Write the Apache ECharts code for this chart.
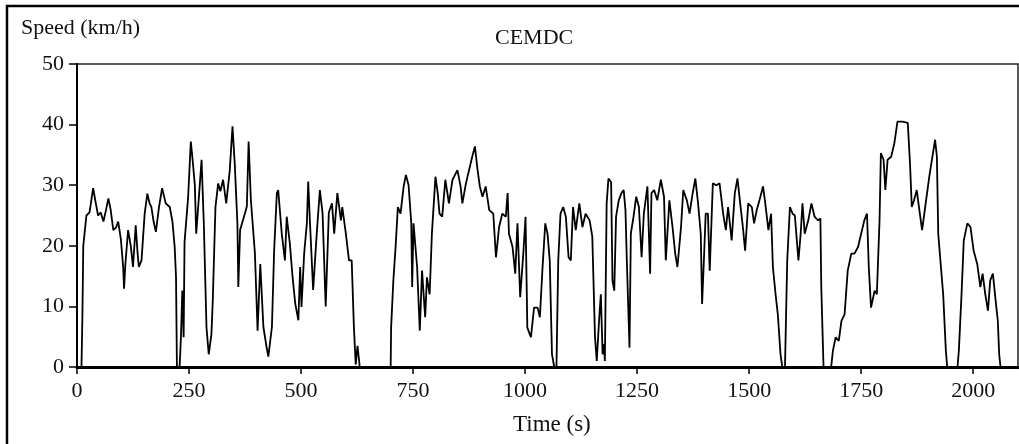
<html>
<head>
  <meta http-equiv="Content-Type" content="text/html; charset=UTF-8">
  <script src="https://cdn.jsdelivr.net/npm/echarts@6/dist/echarts.min.js"></script>
  <style>
    body { margin: 0; background: #fff; }
    #div_show_line { width: 1019px; height: 444px; }
  </style>
  <script>
    // time (s) and speed (km/h)
    var timeS = [
      0, 10, 12, 14, 21, 28, 36, 42, 47, 53, 59, 65, 70, 75, 81, 87, 92, 98, 103, 105,
      108, 114, 120, 125, 131, 135, 138, 144, 151, 157, 162, 166, 171, 176, 183, 190, 198, 207, 213, 218,
      221, 223, 229, 232, 235, 238, 240, 248, 254, 258, 263, 266, 272, 278, 283, 289, 294, 300, 303, 309,
      315, 320, 326, 333, 341, 347, 352, 358, 360, 364, 375, 379, 383, 388, 397, 403, 409, 416, 423, 427,
      435, 440, 446, 449, 457, 464, 468, 475, 481, 487, 494, 498, 501, 507, 513, 516, 520, 527, 535, 542,
      548, 555, 562, 569, 574, 581, 589, 592, 600, 607, 613, 618, 622, 626, 631, 700, 701, 706, 711, 716,
      722, 729, 734, 740, 746, 748, 751, 759, 765, 770, 777, 781, 787, 792, 800, 805, 809, 815, 822, 830,
      838, 849, 856, 860, 868, 875, 882, 888, 894, 899, 905, 912, 920, 929, 935, 942, 949, 957, 961, 964,
      972, 978, 983, 989, 996, 1001, 1005, 1013, 1020, 1028, 1033, 1039, 1045, 1050, 1055, 1060, 1065, 1070, 1074, 1079,
      1085, 1091, 1097, 1102, 1107, 1113, 1121, 1128, 1135, 1144, 1150, 1156, 1160, 1165, 1169, 1173, 1176, 1178, 1182, 1186,
      1192, 1195, 1199, 1203, 1209, 1215, 1220, 1224, 1227, 1233, 1236, 1242, 1248, 1254, 1260, 1265, 1273, 1279, 1282, 1288,
      1295, 1303, 1310, 1314, 1322, 1329, 1335, 1340, 1348, 1353, 1361, 1367, 1374, 1380, 1386, 1392, 1395, 1399, 1403, 1408,
      1412, 1419, 1427, 1434, 1442, 1448, 1453, 1461, 1468, 1474, 1480, 1486, 1491, 1498, 1506, 1511, 1517, 1523, 1531, 1536,
      1543, 1549, 1553, 1559, 1564, 1570, 1574, 1580, 1585, 1591, 1597, 1602, 1610, 1615, 1619, 1624, 1632, 1639, 1646, 1654,
      1659, 1661, 1666, 1683, 1687, 1693, 1700, 1706, 1713, 1720, 1728, 1735, 1743, 1750, 1757, 1763, 1767, 1772, 1780, 1785,
      1791, 1794, 1800, 1804, 1809, 1817, 1824, 1831, 1842, 1854, 1859, 1863, 1868, 1874, 1879, 1886, 1894, 1902, 1909, 1915,
      1919, 1922, 1928, 1933, 1939, 1942, 1965, 1968, 1974, 1979, 1987, 1994, 2001, 2009, 2016, 2021, 2027, 2033, 2038, 2044,
      2050, 2055, 2058, 2061, 2090
    ];
    var speedKmh = [
      0, 0, 8, 20, 25, 25.5, 29.5, 27, 25, 25.5, 24, 26, 27.8, 26, 22.6, 23, 24, 21, 16.5, 12.9,
      17, 22.6, 20, 16.5, 23.4, 19, 16.5, 17.6, 25.3, 28.6, 27, 26.4, 24, 22.3, 26.4, 29.5, 27, 26.4, 24, 19.8,
      14.8, 0, 0, 5, 12.6, 4.9, 20.6, 28, 37.2, 34.2, 30, 22, 28, 34.2, 23.7, 6.5, 2.1, 5.4, 11, 26.4,
      30.3, 29, 30.9, 27, 32.5, 39.7, 33.6, 23.7, 13.2, 22.6, 25.4, 26.5, 37.2, 27.6, 18.8, 6, 17, 6.6, 3.3, 1.7,
      6.6, 19.3, 28.7, 29.2, 22, 17.6, 24.8, 20.4, 14.9, 10.5, 7.7, 16.5, 9.9, 18.8, 23.7, 30.6, 23.7, 12.7, 22, 29.2,
      25.4, 10, 25.5, 27, 22, 28.7, 24.2, 26.4, 22, 17.6, 17.6, 6.5, 0.4, 3.5, 0, 0, 6.5, 14.3, 19.8, 26.4,
      25.3, 29.8, 31.7, 30, 23.7, 13.2, 23.7, 16.5, 6, 15.9, 8.2, 14.8, 12, 22, 31.4, 28.7, 25.3, 24.8, 30.9, 27,
      30.9, 32.5, 29.8, 27, 30.3, 32.5, 34.7, 36.4, 32.5, 29.8, 28.1, 29.8, 25.9, 25.3, 18.1, 23.1, 25.3, 24.8, 28.7, 22,
      19.8, 15.4, 23.7, 11.5, 18.7, 24.8, 6.5, 4.9, 9.8, 9.8, 8.2, 16.5, 23.7, 22, 17.6, 2.1, 0, 0, 17.6, 25.3,
      26.4, 24.8, 18.1, 17.6, 26.4, 22.6, 27, 23.1, 25.3, 24.2, 21.5, 4.9, 1, 7.6, 12, 2.1, 3.8, 1, 27, 31.1,
      30.5, 14.3, 12.6, 24.8, 27.5, 28.7, 29.2, 25.9, 17.6, 3.2, 22, 24.8, 28.1, 26.4, 18.1, 25.3, 29.8, 15.4, 28.7, 29.2,
      27.5, 30.9, 28.1, 17.6, 27.5, 23.1, 18.7, 16.5, 23.1, 29.2, 27.5, 25.3, 28.7, 31.1, 27, 22, 10.4, 17.6, 25.3, 25.3,
      15.9, 30.3, 30, 30.3, 25.3, 22.6, 26.4, 20.9, 28.7, 31.1, 27, 23.1, 19.2, 27, 26.4, 23.7, 25.9, 27.5, 29.8, 27,
      22.6, 25.3, 16.5, 12, 8.7, 2.1, 0, 0, 17.6, 26.4, 25.3, 25, 17.6, 22, 27, 22, 24.2, 27, 24.8, 24.2,
      24.5, 13.2, 0, 0, 2.7, 4.9, 4.3, 7.6, 8.7, 15.9, 18.7, 18.7, 19.8, 22, 24.2, 25.3, 16.5, 9.8, 12.6, 12,
      24.2, 35.3, 34.2, 29.2, 34.2, 34.7, 36.9, 40.5, 40.5, 40.3, 33.6, 26.4, 27.5, 29.2, 26.4, 22.6, 27, 31.4, 34.7, 37.5,
      34.7, 22, 16.5, 12, 2.7, 0, 0, 2.7, 12, 20.9, 23.7, 23.1, 19.2, 17, 13.2, 15.4, 12, 9.3, 14.3, 15.4,
      11, 7.6, 2.1, 0, 0
    ];

    var myChart;
    function DrawEChart() {
      myChart = echarts.init(document.getElementById('div_show_line'));
      var pts = [];
      for (var i = 0; i < timeS.length; i++) {
        pts.push([timeS[i], speedKmh[i]]);
      }
      var serif = '"Liberation Serif", "DejaVu Serif", serif';
      var plain = function (v) { return String(v); };
      var options = {
        animation: false,
        backgroundColor: '#fff',
        title: [
          { text: 'Speed (km/h)', left: 16, top: 12,
            textStyle: { fontFamily: serif, fontSize: 22, fontWeight: 'normal', color: '#111' } },
          { text: 'CEMDC', left: 490, top: 22,
            textStyle: { fontFamily: serif, fontSize: 22, fontWeight: 'normal', color: '#111' } }
        ],
        graphic: [
          { type: 'rect', shape: { x: 7, y: 6, width: 1060, height: 480 },
            style: { fill: 'none', stroke: '#000', lineWidth: 2.5 } },
          { type: 'text', left: 513, top: 413,
            style: { text: 'Time (s)', fontFamily: serif, fontSize: 23, fill: '#111' } }
        ],
        grid: {
          left: 77, right: 1, top: 64, bottom: 77,
          show: true, borderColor: '#222', borderWidth: 1.5
        },
        xAxis: {
          type: 'value', min: 0, max: 2100, interval: 250,
          axisLine: { lineStyle: { color: '#000', width: 3 } },
          axisTick: { inside: false, length: 7, lineStyle: { color: '#000', width: 1.5 } },
          axisLabel: { fontFamily: serif, fontSize: 22, color: '#111', margin: 13, showMaxLabel: false, formatter: plain },
          splitLine: { show: false }
        },
        yAxis: {
          type: 'value', min: 0, max: 50, interval: 10,
          axisLine: { show: true, lineStyle: { color: '#000', width: 2 } },
          axisTick: { show: true, length: 8, lineStyle: { color: '#000', width: 1.5 } },
          axisLabel: { fontFamily: serif, fontSize: 22, color: '#111', margin: 13, formatter: plain },
          splitLine: { show: false }
        },
        series: [{
          type: 'line', data: pts, showSymbol: false,
          lineStyle: { color: '#000', width: 1.8 }
        }]
      };
      myChart.setOption(options);
    }
    window.onload = DrawEChart;
  </script>
</head>
<body>
  <div id="div_show_line"></div>
</body>
</html>
